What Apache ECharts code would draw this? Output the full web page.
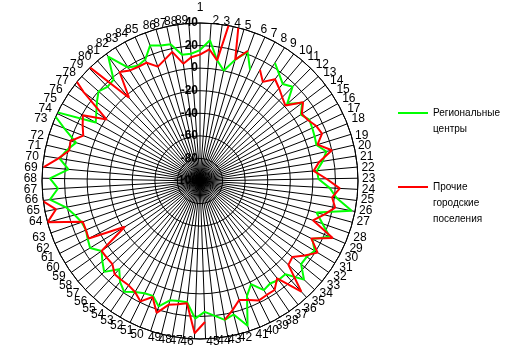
<!DOCTYPE html>
<html><head><meta charset="utf-8">
<script src="https://cdn.jsdelivr.net/npm/echarts@6/dist/echarts.min.js"></script>
<style>
html,body{margin:0;padding:0;background:#fff;}
#base,#lines{position:absolute;left:0;top:0;width:512px;height:356px;}
#lines{clip-path:polygon(36px 21px,364px 21px,364px 80px,512px 80px,512px 250px,364px 250px,364px 342px,36px 342px);}
</style></head><body>
<div id="base"></div><div id="lines"></div>
<script>
const categories = ['1','2','3','4','5','6','7','8','9','10','11','12','13','14','15','16','17','18','19','20',
  '21','22','23','24','25','26','27','28','29','30','31','32','33','34','35','36','37','38','39','40',
  '41','42','43','44','45','46','47','48','49','50','51','52','53','54','55','56','57','58','59','60',
  '61','62','63','64','65','66','67','68','69','70','71','72','73','74','75','76','77','78','79','80',
  '81','82','83','84','85','86','87','88','89'];
const radiusTicks = [-100, -80, -60, -40, -20, 0, 20, 40];
const seriesNames = ['Региональные центры', 'Прочие городские поселения'];
const legendLabels = ['\nРегиональные\nцентры', '\n\nПрочие\nгородские\nпоселения'];
// Региональные центры (green)
const regional = [16,25,8,0,12,22,8,null,24,18,13,17,3,14,7,11,10,9,8,15,
  10,4,5,15,22,37,7,15,25,12,19,16,16,27,12,12,10,12,2,10,
  35,22,25,20,16,22,8,8,9,17,10,11,14,19,14,6,17,12,7,14,
  12,10,11,15,21,34,26,33,17,26,21,15,29,46,6,10,15,20,17,18,
  37,19,16,18,28,25,24,13,13];
// Прочие городские поселения (red)
const other = [12,17,8,80,12,23,null,12,4,12,8,4,1,15,8,10,14,16,9,20,
  7,1,12,24,18,22,14,6,28,11,22,14,6,8,33,10,17,17,18,14,
  11,18,25,null,25,35,9,11,13,23,11,19,14,12,12,12,7,7,7,-22,
  11,10,10,40,30,41,null,null,39,27,19,20,11,15,19,-1,30,63,47,-3,
  20,16,15,15,8,12,17,5,10];
const colors = ['#00ff00', '#ff0000'];

const N = categories.length;
const FONT = 'Liberation Sans, Arial, sans-serif';
// label style class by position around the circle
function labelClass(i) {
  if (i === 0) return 'top';
  if (i >= 1 && i <= 4) return 'r1';
  if (i >= 41 && i <= 44) return 'r2';
  if (i >= 45 && i <= 48) return 'l2';
  if (i >= 85) return 'l2';
  if (i < 44) return 'R';
  return 'L';
}
const base12 = { fontSize: 12, fontFamily: FONT, color: '#000' };
function polarCfg(showAxes) {
  return {
    polar: { center: [200, 181], radius: 158 },
    angleAxis: {
      type: 'value', min: 0, max: N, interval: 1, startAngle: 90, clockwise: true,
      axisLine: { show: showAxes, lineStyle: { color: '#000', width: 1 } },
      axisTick: { show: false },
      splitLine: { show: showAxes, lineStyle: { color: '#000', width: 1 } },
      axisLabel: { show: showAxes, margin: -3, color: '#000', fontSize: 12, fontFamily: FONT,
        showMinLabel: true, showMaxLabel: false,
        formatter: v => (v < N ? '{' + labelClass(v) + '|' + categories[v] + '}' : ''),
        rich: {
          top: Object.assign({ padding: [0, 0, 12, 0] }, base12),
          r1: Object.assign({ padding: [0, 0, 0, 10] }, base12),
          r2: Object.assign({ padding: [0, 0, 0, 15] }, base12),
          l2: Object.assign({ padding: [0, 15, 0, 0] }, base12),
          R: Object.assign({ padding: [0, 0, 0, 7] }, base12),
          L: Object.assign({ padding: [0, 8, 0, 0] }, base12)
        } }
    },
    radiusAxis: {
      type: 'value', min: radiusTicks[0], max: radiusTicks[radiusTicks.length - 1], interval: 20,
      axisLine: { show: false }, axisTick: { show: false },
      splitLine: { show: showAxes, lineStyle: { color: '#000', width: 1 } },
      axisLabel: { show: showAxes, margin: 2, color: '#000', fontSize: 12, fontWeight: 'bold', fontFamily: FONT },
      z: 5
    }
  };
}

const base = echarts.init(document.getElementById('base'), null, { renderer: 'canvas' });
base.setOption(Object.assign({ animation: false }, polarCfg(true)));

function toData(arr) {
  const d = arr.map((v, i) => [v === null ? '-' : v, i]);
  d.push([arr[0] === null ? '-' : arr[0], N]);
  return d;
}
const lines = echarts.init(document.getElementById('lines'), null, { renderer: 'canvas' });
const opt = Object.assign({ animation: false }, polarCfg(false));
opt.series = [regional, other].map((arr, i) => ({
  name: seriesNames[i], type: 'line', coordinateSystem: 'polar',
  data: toData(arr), showSymbol: false, symbol: 'none', connectNulls: false, clip: false,
  color: colors[i], lineStyle: { color: colors[i], width: 2 }, z: 3
}));
const legendTops = [89, 147];
opt.legend = seriesNames.map((nm, i) => ({
  data: [nm], orient: 'vertical', left: 398, top: legendTops[i], padding: 0,
  icon: 'rect', itemWidth: 30, itemHeight: 2, selectedMode: false,
  formatter: () => legendLabels[i],
  textStyle: { color: '#000', fontSize: 10, lineHeight: 16, fontFamily: FONT }
}));
lines.setOption(opt);
</script>
</body></html>
